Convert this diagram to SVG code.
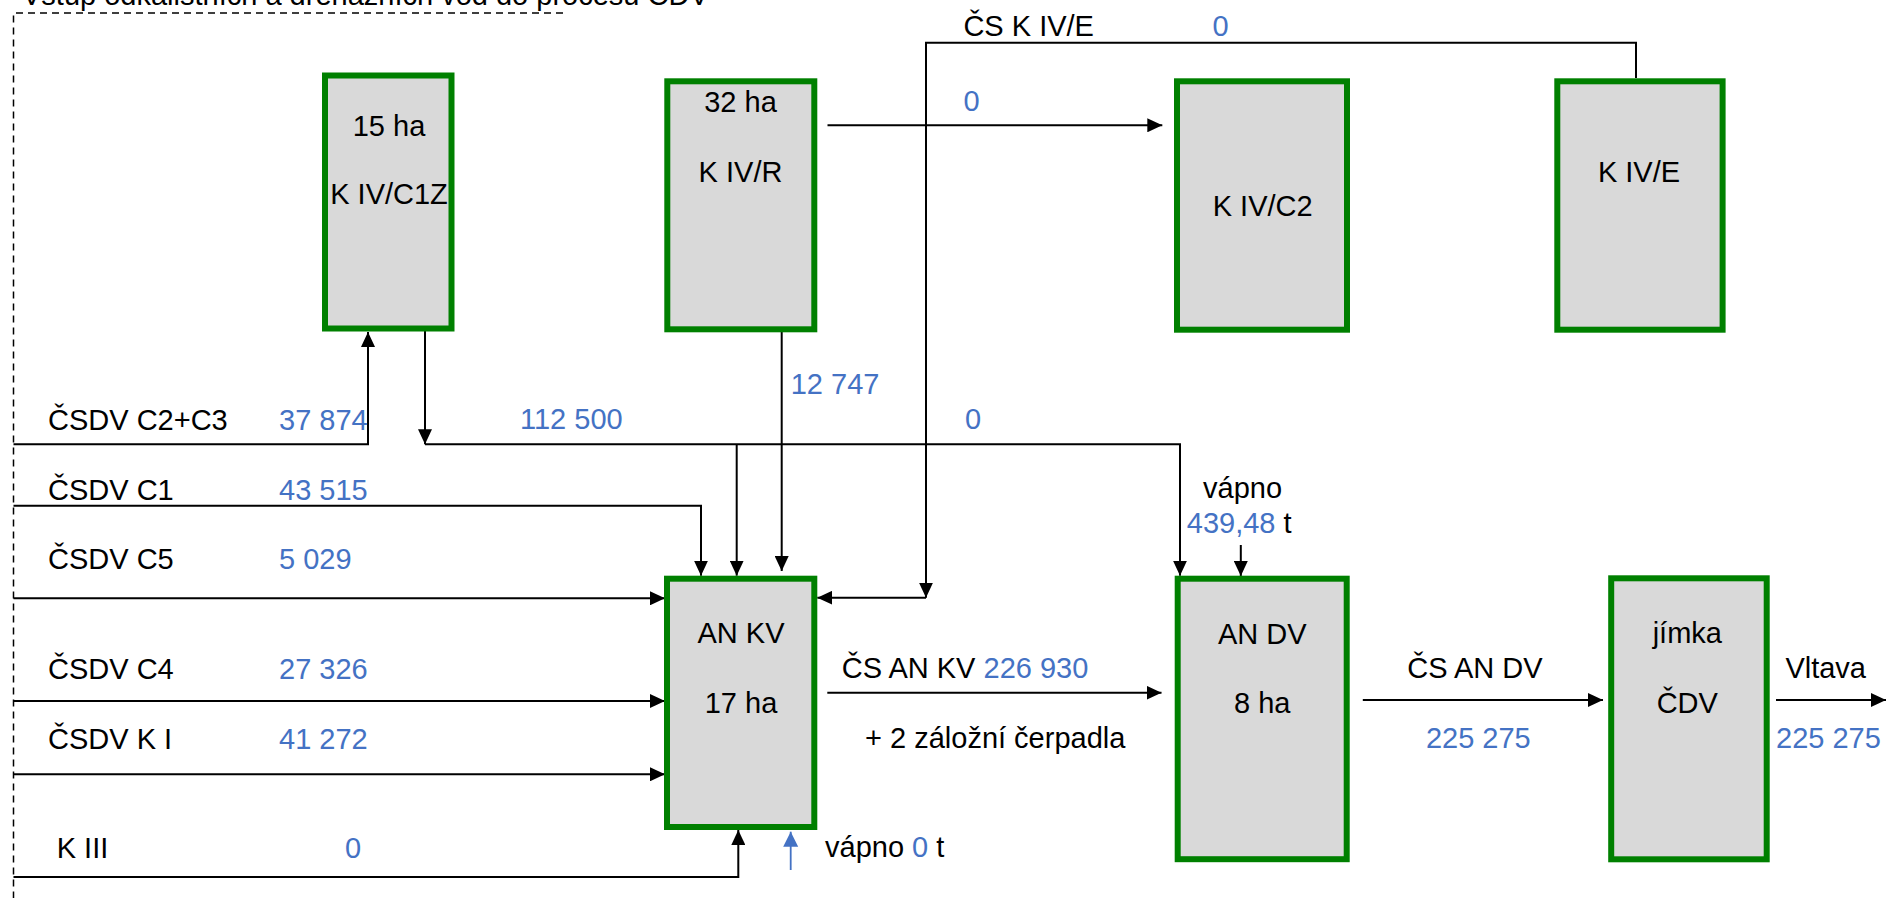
<svg xmlns="http://www.w3.org/2000/svg" width="1886" height="898" viewBox="0 0 1886 898">
<style>
text{font-family:"Liberation Sans",Arial,sans-serif;font-size:29px;fill:#000}
.b{fill:#4472c4}
.m{text-anchor:middle}
.box{fill:#d9d9d9;stroke:#008000;stroke-width:6}
.ln{fill:none;stroke:#000;stroke-width:2}
.bl{fill:none;stroke:#4472c4;stroke-width:1.8}
.dash{fill:none;stroke:#000;stroke-width:1.5;stroke-dasharray:7 5}
</style>
<defs>
<marker id="ah" markerUnits="userSpaceOnUse" markerWidth="16" markerHeight="14" refX="15" refY="7" orient="auto"><path d="M0,0 L15,7 L0,14 z" fill="#000"/></marker>
<marker id="ahb" markerUnits="userSpaceOnUse" markerWidth="16" markerHeight="16" refX="15" refY="7.5" orient="auto"><path d="M0,0 L15,7.5 L0,15 z" fill="#4472c4"/></marker>
</defs>
<rect width="1886" height="898" fill="#fff"/>
<text x="22" y="5">Vstup odkalištních a drenážních vod do procesu ČDV</text>
<path class="dash" d="M563,13 H13.5 V898"/>
<g id="connectors">
<path class="ln" d="M13.5,444.3 H368 V332" marker-end="url(#ah)"/>
<path class="ln" d="M425,331 V444.3" marker-end="url(#ah)"/>
<path class="ln" d="M425,444.3 H1180 V575.7" marker-end="url(#ah)"/>
<path class="ln" d="M736.7,444.3 V575.7" marker-end="url(#ah)"/>
<path class="ln" d="M13.5,505.7 H701 V575.7" marker-end="url(#ah)"/>
<path class="ln" d="M781.7,332 V571" marker-end="url(#ah)"/>
<path class="ln" d="M1636,78 V42.7 H926 V597.7" marker-end="url(#ah)"/>
<path class="ln" d="M926,597.7 H817.3" marker-end="url(#ah)"/>
<path class="ln" d="M827.5,125.3 H1162.3" marker-end="url(#ah)"/>
<path class="ln" d="M13.5,598.3 H665" marker-end="url(#ah)"/>
<path class="ln" d="M13.5,701 H665" marker-end="url(#ah)"/>
<path class="ln" d="M13.5,774.3 H665" marker-end="url(#ah)"/>
<path class="ln" d="M13.5,877 H738.3 V830" marker-end="url(#ah)"/>
<path class="bl" d="M790.7,870 V831.7" marker-end="url(#ahb)"/>
<path class="ln" d="M827.3,692.7 H1161.5" marker-end="url(#ah)"/>
<path class="ln" d="M1240.8,545 V576" marker-end="url(#ah)"/>
<path class="ln" d="M1362.8,700 H1603" marker-end="url(#ah)"/>
<path class="ln" d="M1776,700 H1886" marker-end="url(#ah)"/>
</g>
<g id="kiv-c1z"><rect class="box" x="325" y="75.5" width="126.5" height="253"/><text class="m" x="389" y="136">15 ha</text><text class="m" x="389" y="204">K IV/C1Z</text></g>
<g id="kiv-r"><rect class="box" x="667.3" y="81.3" width="147" height="248"/><text class="m" x="740.5" y="111.7">32 ha</text><text class="m" x="740.5" y="181.7">K IV/R</text></g>
<g id="kiv-c2"><rect class="box" x="1177" y="81.3" width="170" height="248.4"/><text class="m" x="1262.7" y="216">K IV/C2</text></g>
<g id="kiv-e"><rect class="box" x="1557.3" y="81.3" width="165.3" height="248.4"/><text class="m" x="1639" y="181.7">K IV/E</text></g>
<g id="an-kv"><rect class="box" x="667" y="578.7" width="147.3" height="248.3"/><text class="m" x="741" y="643.3">AN KV</text><text class="m" x="741" y="713.3">17 ha</text></g>
<g id="an-dv"><rect class="box" x="1177.7" y="578.7" width="169" height="280.5"/><text class="m" x="1262.2" y="644.3">AN DV</text><text class="m" x="1262.2" y="713.3">8 ha</text></g>
<g id="jimka"><rect class="box" x="1611.2" y="578.3" width="155.5" height="281"/><text class="m" x="1687.3" y="643.3">jímka</text><text class="m" x="1687.3" y="713.3">ČDV</text></g>
<g id="labels">
<text x="48" y="430">ČSDV C2+C3</text><text class="b" x="279" y="430">37 874</text>
<text x="48" y="500">ČSDV C1</text><text class="b" x="279" y="500">43 515</text>
<text x="48" y="569">ČSDV C5</text><text class="b" x="279" y="569">5 029</text>
<text x="48" y="679">ČSDV C4</text><text class="b" x="279" y="679">27 326</text>
<text x="48" y="749">ČSDV K I</text><text class="b" x="279" y="749">41 272</text>
<text x="56.7" y="857.7">K III</text><text class="b" x="345" y="857.7">0</text>
<text class="b" x="520" y="429.3">112 500</text>
<text class="b" x="790.7" y="394">12 747</text>
<text class="b" x="965" y="429.3">0</text>
<text x="963.4" y="36">ČS K IV/E</text><text class="b" x="1212.4" y="36">0</text>
<text class="b" x="963.4" y="111">0</text>
<text x="1203" y="498.3">vápno</text>
<text x="1186.8" y="533.3"><tspan class="b">439,48</tspan> t</text>
<text x="841.7" y="677.7">ČS AN KV <tspan class="b">226 930</tspan></text>
<text x="865" y="748.3">+ 2 záložní čerpadla</text>
<text x="825" y="856.7">vápno <tspan class="b">0</tspan> t</text>
<text class="m" x="1474.9" y="677.7">ČS AN DV</text>
<text class="b m" x="1478.3" y="748.3">225 275</text>
<text x="1785.4" y="678">Vltava</text>
<text class="b" x="1776" y="748.3">225 275</text>
</g>
</svg>
